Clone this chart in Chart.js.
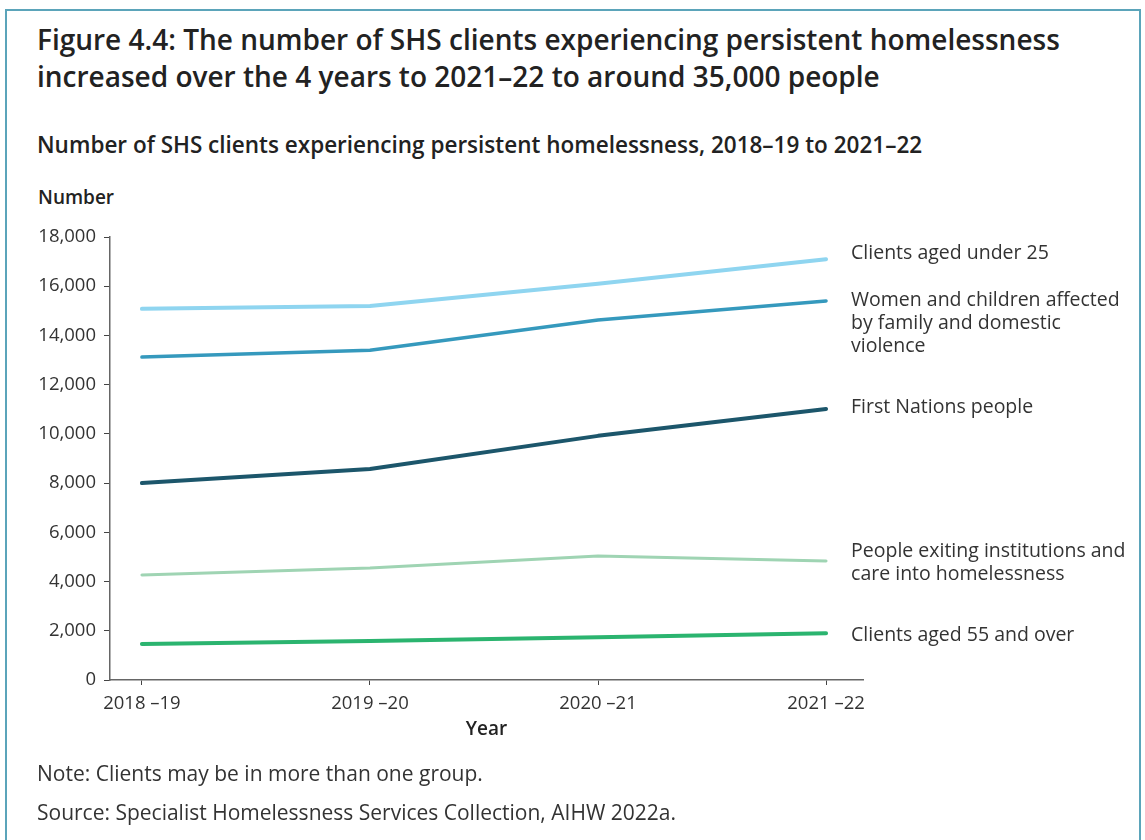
<!DOCTYPE html>
<html>
<head>
<meta charset="utf-8">
<script src="https://cdn.jsdelivr.net/npm/chart.js@4.4.0/dist/chart.umd.min.js"></script>
<style>
  html, body { margin: 0; padding: 0; background: #fff; }
  body { width: 1145px; height: 840px; overflow: hidden; position: relative; font-family: "Open Sans", sans-serif; color: #222; }
  .frame { position: absolute; left: 5px; top: 9px; width: 1136px; height: 900px; border: 2px solid #5ba4ba; box-sizing: border-box; }
  .txt { position: absolute; white-space: nowrap; }
  #title { left: 37px; top: 21px; font-size: 28px; font-weight: 600; line-height: 37px; }
  #subtitle { left: 37px; top: 130px; font-size: 22.5px; font-weight: 600; line-height: 30px; }
  #ylabel { left: 38px; top: 184px; font-size: 19px; font-weight: 600; line-height: 26px; }
  .note { left: 37px; font-size: 21px; color: #333; line-height: 29px; }
  #chartWrap { position: absolute; left: 0; top: 0; width: 1145px; height: 840px; }
</style>
</head>
<body>
<div class="frame"></div>
<div class="txt" id="title">Figure 4.4: The number of SHS clients experiencing persistent homelessness<br>increased over the 4 years to 2021–22 to around 35,000 people</div>
<div class="txt" id="subtitle">Number of SHS clients experiencing persistent homelessness, 2018–19 to 2021–22</div>
<div class="txt" id="ylabel">Number</div>
<div id="chartWrap"><canvas id="chart" width="1145" height="840"></canvas></div>
<div class="txt note" style="top:759px">Note: Clients may be in more than one group.</div>
<div class="txt note" style="top:798px">Source: Specialist Homelessness Services Collection, AIHW 2022a.</div>

<script>
// --- data ---
const years = ['2018 –19', '2019 –20', '2020 –21', '2021 –22'];

const under25 = [15080, 15200, 16100, 17100];
const womenFdv = [13120, 13400, 14630, 15400];
const firstNations = [8000, 8570, 9920, 11010];
const exitingCare = [4270, 4550, 5040, 4840];
const aged55 = [1460, 1580, 1740, 1900];

const seriesLabels = [
    ['Clients aged under 25'],
    ['Women and children affected', 'by family and domestic', 'violence'],
    ['First Nations people'],
    ['People exiting institutions and', 'care into homelessness'],
    ['Clients aged 55 and over']
];

const seriesData = [under25, womenFdv, firstNations, exitingCare, aged55];
const colours = ['#8fd5f0', '#3599bd', '#1c566b', '#9fd4b3', '#2bb46f'];
const widths = [4, 3.5, 4, 3, 4];
// vertical nudge of each end label relative to its line end
const labelDy = [-6, -1, -2, -9, 2];

// draw the series names next to each line end
const endLabels = {
    id: 'endLabels',
    afterDatasetsDraw(chart) {
        const ctx = chart.ctx;
        ctx.save();
        ctx.font = '19.5px "Open Sans"';
        ctx.fillStyle = '#333';
        ctx.textBaseline = 'middle';
        ctx.textAlign = 'left';
        chart.data.datasets.forEach((ds, i) => {
            const pts = chart.getDatasetMeta(i).data;
            const last = pts[pts.length - 1];
            seriesLabels[i].forEach((line, j) => {
                ctx.fillText(line, last.x + 25, last.y + labelDy[i] + j * 23);
            });
        });
        ctx.restore();
    }
};

const ctx = document.getElementById('chart').getContext('2d');
new Chart(ctx, {
    type: 'line',
    data: {
        datasets: seriesData.map((vals, i) => ({
            label: seriesLabels[i].join(' '),
            data: vals.map((v, k) => ({ x: k, y: v })),
            borderColor: colours[i],
            borderWidth: widths[i],
            borderCapStyle: 'round',
            borderJoinStyle: 'round',
            pointRadius: 0,
            tension: 0,
            fill: false
        }))
    },
    options: {
        responsive: false,
        animation: false,
        layout: { padding: { left: 40, top: 237, right: 282, bottom: 95 } },
        plugins: { legend: { display: false }, tooltip: { enabled: false } },
        scales: {
            x: {
                type: 'linear',
                min: -0.14,
                max: 3.162,
                afterBuildTicks: s => { s.ticks = years.map((_, k) => ({ value: k })); },
                afterFit: s => { s.height = 65; },
                ticks: {
                    callback: v => years[v],
                    color: '#333',
                    font: { family: 'Open Sans', size: 18.5 },
                    padding: 8,
                    maxRotation: 0
                },
                grid: { drawOnChartArea: false, drawTicks: true, tickLength: 5, color: '#444' },
                border: { display: true, color: '#666', width: 1.5 },
                title: {
                    display: true,
                    text: 'Year',
                    color: '#222',
                    font: { family: 'Open Sans', size: 19, weight: '600' },
                    padding: { top: 0 }
                }
            },
            y: {
                min: 0,
                max: 18000,
                afterFit: s => { s.width = 70; },
                ticks: {
                    stepSize: 2000,
                    callback: v => v.toLocaleString('en-US'),
                    color: '#333',
                    font: { family: 'Open Sans', size: 18.5 },
                    padding: 8
                },
                grid: { drawOnChartArea: false, drawTicks: true, tickLength: 6, color: '#444' },
                border: { display: true, color: '#666', width: 1.5 }
            }
        }
    },
    plugins: [endLabels]
});
</script>
</body>
</html>
